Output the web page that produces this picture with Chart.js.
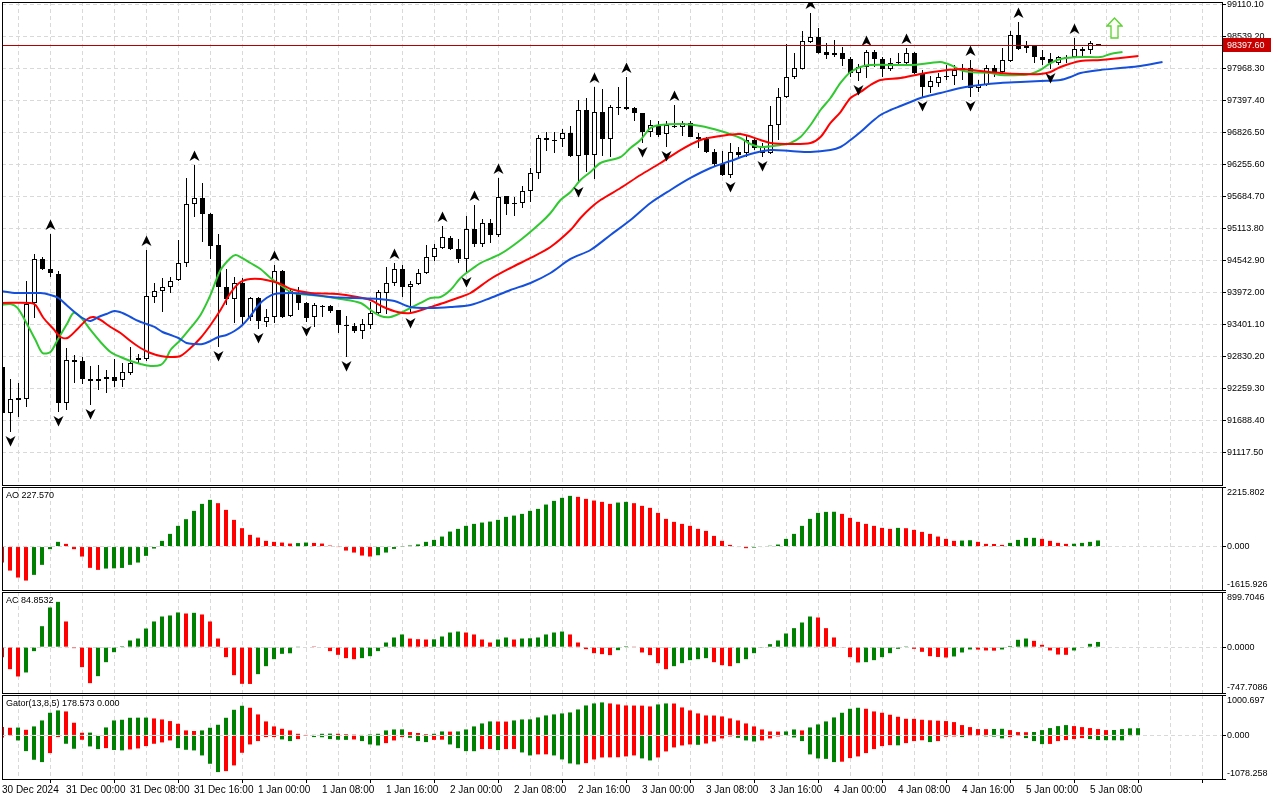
<!DOCTYPE html>
<html>
<head>
<meta charset="utf-8">
<script src="https://cdn.jsdelivr.net/npm/chart.js@4.4.1/dist/chart.umd.min.js"></script>
<style>
  html, body { margin: 0; padding: 0; background: #fff; }
  #wrap { position: relative; width: 1280px; height: 800px; overflow: hidden; }
  canvas { position: absolute; left: 0; }
</style>
</head>
<body>
<div id="wrap">
  <canvas id="main" width="1280" height="487" style="top:0px"></canvas>
  <canvas id="ao" width="1280" height="105" style="top:486px"></canvas>
  <canvas id="ac" width="1280" height="103" style="top:591px"></canvas>
  <canvas id="gator" width="1280" height="106" style="top:694px"></canvas>
</div>
<script>
// hourly candles, one per bar index
const open = [
  92652, 91831, 92063, 92081, 93794, 94579, 94400, 94311, 92010, 92777,
  92759, 92438, 92402, 92438, 92474, 92420, 92545, 92777, 92795, 93901,
  94008, 94079, 94204, 94507, 95560, 95667, 95382, 94829, 94079, 93865,
  94151, 93544, 93883, 93455, 93544, 94365, 93562, 93972, 93794, 93544,
  93740, 93740, 93669, 93401, 93384, 93294, 93401, 93615, 93972, 94151,
  94400, 94079, 94133, 94329, 94614, 94775, 94953, 94757, 94579, 95114,
  94846, 95221, 95007, 95703, 95578, 95578, 95792, 96113, 96737, 96702,
  96720, 96827, 96416, 97237, 96434, 97201, 96720, 97290, 97290, 97273,
  97183, 96844, 96969, 96809, 96934, 96934, 97005, 96755, 96720, 96488,
  96274, 96077, 96488, 96470, 96702, 96470, 96470, 96969, 97469, 97826,
  97968, 98450, 98539, 98272, 98218, 98254, 98147, 97897, 98004, 98272,
  98147, 97968, 98075, 98075, 98254, 97897, 97647, 97719, 97826, 97844,
  97951, 97986, 97629, 97683, 97986, 97915, 98111, 98575, 98343, 98379,
  98182, 98147, 98075, 98165, 98182, 98325, 98307, 98414
];
const high = [
  92688, 92438, 92367, 94186, 94668, 94614, 95025, 94365, 92991, 92866,
  92830, 92670, 92688, 92599, 92795, 92723, 93009, 92884, 94739, 94151,
  94240, 94258, 94918, 96024, 96256, 95935, 95399, 95025, 94400, 94258,
  94240, 93901, 93901, 93687, 94472, 94382, 94061, 94079, 93812, 93794,
  93758, 93758, 93669, 93562, 93437, 93508, 93812, 94026, 94436, 94507,
  94472, 94186, 94400, 94829, 94846, 95168, 94989, 94936, 95346, 95542,
  95292, 95292, 96024, 95703, 95685, 95881, 96202, 96791, 96844, 96844,
  96898, 96952, 97415, 97451, 97647, 97612, 97326, 97647, 97826, 97290,
  97183, 97058, 97041, 97041, 97326, 97041, 97041, 96827, 96755, 96541,
  96506, 96648, 96577, 96791, 96755, 96648, 97308, 97629, 98414, 98254,
  98646, 98967, 98700, 98432, 98486, 98361, 98182, 98058, 98307, 98307,
  98182, 98165, 98254, 98343, 98272, 97951, 97844, 97897, 98040, 98040,
  98058, 98129, 97772, 98040, 98040, 98343, 98646, 98807, 98468, 98397,
  98307, 98254, 98200, 98218, 98521, 98361, 98468, 98414
];
const low = [
  91796, 91492, 91760, 91938, 93526, 94382, 94258, 91849, 91885, 92367,
  92349, 91974, 92242, 92188, 92295, 92295, 92509, 92723, 92759, 93794,
  93633, 93972, 94186, 94436, 95328, 94882, 94579, 93009, 93758, 93437,
  93419, 93473, 93330, 93366, 93437, 93526, 93544, 93669, 93455, 93366,
  93544, 93615, 93259, 92830, 93259, 93152, 93330, 93598, 93598, 94097,
  93901, 93598, 94115, 94311, 94543, 94757, 94739, 94507, 94329, 94793,
  94793, 94864, 94971, 95364, 95346, 95489, 95596, 96006, 96506, 96470,
  96577, 96398, 95935, 96131, 96006, 96416, 96398, 97148, 97237, 97041,
  96648, 96755, 96755, 96577, 96916, 96773, 96755, 96559, 96470, 96220,
  96060, 96024, 96398, 96398, 96523, 96398, 96452, 96702, 97451, 97790,
  97960, 98432, 98240, 98147, 98182, 98022, 97826, 97754, 97808, 98004,
  97826, 97933, 98040, 98058, 97879, 97469, 97540, 97647, 97772, 97683,
  97772, 97469, 97558, 97665, 97826, 97897, 98093, 98307, 98254, 98075,
  98040, 97968, 98040, 98075, 98175, 98200, 98236, 98379
];
const close = [
  91831, 92081, 92099, 93776, 94579, 94400, 94329, 92010, 92777, 92741,
  92438, 92402, 92438, 92474, 92402, 92563, 92723, 92813, 93919, 94008,
  94079, 94186, 94507, 95560, 95667, 95382, 94811, 94079, 93865, 94151,
  93544, 93883, 93473, 93544, 94365, 93544, 94008, 93794, 93526, 93758,
  93722, 93651, 93401, 93384, 93294, 93419, 93615, 93990, 94151, 94400,
  94079, 94133, 94329, 94614, 94775, 94971, 94757, 94579, 95114, 94846,
  95221, 95007, 95685, 95560, 95560, 95792, 96113, 96737, 96702, 96684,
  96827, 96416, 97237, 96434, 97201, 96720, 97290, 97273, 97255, 97183,
  96844, 96969, 96791, 96969, 96952, 97005, 96755, 96720, 96488, 96274,
  96077, 96488, 96434, 96702, 96559, 96595, 96969, 97469, 97826, 97986,
  98468, 98539, 98254, 98218, 98254, 98147, 97897, 98004, 98272, 98147,
  97968, 98075, 98093, 98254, 97897, 97647, 97754, 97826, 97835, 97951,
  97986, 97629, 97683, 97986, 97915, 98129, 98575, 98325, 98379, 98182,
  98129, 98075, 98182, 98160, 98325, 98290, 98432, 98397.6
];

// alligator lines: [bar position, price]
const jawLine = [
  [-0.25, 94008], [1.75, 93972], [4.75, 93972], [6, 93937], [7, 93883], [8, 93758], [9, 93633], [10, 93526],
  [11, 93473], [12, 93544], [13, 93598], [14, 93651], [15, 93615], [16, 93544], [17, 93473], [18, 93419],
  [19, 93366], [20, 93276], [21, 93223], [22, 93169], [23, 93080], [24, 93062], [25, 93062], [26, 93116],
  [27, 93187], [28, 93223], [29, 93294], [30, 93401], [31, 93562], [32, 93758], [33, 93883], [34, 93954],
  [36, 93972], [38, 93954], [41, 93901], [44, 93883], [47, 93865], [49, 93829], [51, 93722], [53.5, 93705],
  [56, 93722], [58.5, 93758], [61, 93883], [63.5, 94026], [66, 94151], [68.5, 94329], [71, 94579], [73.5, 94739],
  [76, 95007], [78.5, 95274], [81, 95578], [83.5, 95810], [86, 96024], [88.5, 96202], [91, 96327], [93.5, 96452],
  [96, 96523], [98.5, 96506], [101, 96488], [103.5, 96523], [104.75, 96577], [106, 96702], [107.25, 96844],
  [108.5, 97005], [109.75, 97148], [111, 97237], [112.25, 97308], [113.5, 97380], [114.75, 97451], [117.25, 97540],
  [119.75, 97629], [122.25, 97683], [124.75, 97719], [127.25, 97736], [129.75, 97754], [132.25, 97772],
  [133.5, 97826], [134.75, 97897], [137.25, 97951], [139.75, 97986], [142.25, 98022], [145, 98093]
];
const teethLine = [
  [-0.25, 93794], [3.5, 93794], [4.125, 93758], [5.125, 93526], [6.375, 93330], [7.25, 93187], [8.125, 93169],
  [9.375, 93330], [10.625, 93508], [11.375, 93544], [12.25, 93491], [13.5, 93366], [14.75, 93259], [16, 93116],
  [17.25, 92991], [18.5, 92902], [19.75, 92848], [21, 92830], [22.25, 92848], [23.5, 92991], [24.75, 93169],
  [26, 93401], [27.25, 93669], [28.5, 93972], [29.75, 94168], [31, 94222], [32.25, 94222], [33.5, 94186],
  [34.75, 94133], [36, 94044], [38.5, 93972], [41.875, 93954], [44.375, 93901], [46, 93847], [47.625, 93722],
  [49.375, 93633], [51, 93615], [53.5, 93722], [55.125, 93794], [56.875, 93883], [58.5, 93972], [61, 94222],
  [63.5, 94418], [66, 94597], [68.5, 94793], [71, 95096], [72.25, 95310], [73.5, 95489], [74.75, 95631],
  [77.25, 95845], [79.75, 96077], [82.25, 96291], [84.75, 96523], [87.25, 96702], [89.75, 96773], [92.25, 96809],
  [94.75, 96702], [96, 96648], [98.5, 96630], [101, 96648], [102.25, 96755], [103.5, 97005], [104.75, 97201],
  [106, 97451], [107.25, 97558], [108.5, 97683], [109.75, 97772], [112.25, 97808], [114.75, 97879], [117.25, 97933],
  [119.75, 97968], [122.25, 97933], [124.75, 97897], [127.25, 97879], [129.75, 97879], [131, 97915], [132.25, 98004],
  [134.75, 98111], [137.25, 98129], [139.75, 98165], [142, 98200]
];
const lipsLine = [
  [-0.25, 93758], [1, 93776], [1.875, 93705], [3.125, 93401], [4.125, 93134], [5, 92902], [6, 92920], [6.875, 93134],
  [8.125, 93437], [8.875, 93615], [9.75, 93544], [11, 93312], [12.25, 93098], [13.5, 92920], [14.75, 92830],
  [16, 92759], [17.25, 92706], [18.5, 92670], [19.75, 92688], [20.375, 92777], [21, 92955], [22.25, 93134],
  [23.5, 93348], [24.75, 93580], [26, 93937], [27.25, 94382], [28.5, 94597], [29.125, 94650], [29.75, 94614],
  [31, 94507], [32.25, 94400], [33.5, 94240], [34.75, 94115], [36, 93990], [37.25, 93954], [39.75, 93919],
  [42.25, 93865], [44.75, 93794], [46, 93669], [47.25, 93562], [48.5, 93544], [49.75, 93615], [51, 93705],
  [52.25, 93794], [53.5, 93883], [54.75, 93901], [56, 94026], [57.25, 94240], [58.5, 94382], [59.75, 94507],
  [62.25, 94668], [64.75, 94918], [67.25, 95221], [68.5, 95399], [69.75, 95631], [71, 95774], [72.25, 95988],
  [73.5, 96131], [74.75, 96291], [77.25, 96398], [78.5, 96559], [79.75, 96702], [81, 96916], [82.25, 96969],
  [84.75, 96987], [87.25, 96952], [89.75, 96862], [92.25, 96737], [93.5, 96630], [94.75, 96577], [97.25, 96613],
  [98.5, 96648], [99.75, 96755], [101, 96969], [102.25, 97237], [103.5, 97451], [104.75, 97719], [106, 97915],
  [107.25, 98004], [108.5, 98040], [113.5, 98040], [116, 98075], [117.25, 98093], [118.5, 98040], [119.75, 97951],
  [121, 97915], [123.5, 97897], [124.75, 97861], [127.25, 97861], [128.5, 97879], [129.75, 97951], [131, 98075],
  [132.25, 98147], [134.75, 98182], [137.25, 98182], [138.5, 98236], [140, 98272]
];

const fractalUp = [6, 18, 24, 34, 49, 55, 59, 62, 74, 78, 84, 101, 108, 113, 121, 127, 134];
const fractalDown = [1, 7, 11, 27, 32, 38, 43, 51, 58, 72, 80, 83, 91, 95, 107, 115, 121, 131];
const signalBar = 139;
const signalPrice = 98700;

const ao = [
  -595, -893, -1153, -1265, -1053, -681, -97, 175, 100, -97,
  -372, -792, -867, -818, -810, -795, -681, -595, -346, -74,
  212, 472, 770, 1019, 1328, 1588, 1737, 1614, 1365, 993,
  684, 435, 335, 212, 175, 149, 112, 130, 150, 135,
  112, 37, -10, -149, -223, -335, -372, -323, -223, -87,
  10, 40, 80, 175, 248, 372, 558, 658, 770, 844,
  893, 930, 993, 1105, 1153, 1216, 1328, 1402, 1563, 1700,
  1812, 1886, 1849, 1774, 1712, 1663, 1588, 1637, 1663, 1614,
  1514, 1440, 1253, 1030, 919, 844, 770, 658, 583, 397,
  212, 62, -20, -60, -40, -20, 30, 75, 285, 472,
  770, 1030, 1253, 1290, 1295, 1216, 1067, 919, 844, 770,
  695, 658, 695, 683, 621, 546, 472, 372, 285, 212,
  224, 235, 175, 100, 95, 62, 137, 248, 323, 325,
  285, 212, 137, 100, 105, 137, 175, 227.57
];
const ac = [
  -163, -359, -478, -413, -65, 342, 647, 739, 419, -16,
  -326, -587, -473, -245, -82, 16, 109, 141, 304, 419,
  500, 517, 566, 549, 560, 533, 419, 141, -163, -457,
  -598, -600, -440, -310, -196, -109, -100, 5, 8, 3,
  -8, -65, -125, -179, -196, -179, -147, -65, 76, 158,
  207, 140, 130, 125, 128, 174, 239, 255, 239, 207,
  125, 76, 125, 158, 125, 141, 145, 158, 207, 239,
  255, 207, 76, -33, -98, -114, -130, -49, 16, 5,
  -87, -130, -261, -359, -310, -261, -212, -196, -179, -245,
  -294, -310, -261, -196, -98, -5, 49, 109, 223, 310,
  402, 500, 484, 310, 158, -10, -163, -250, -245, -212,
  -163, -98, -27, 3, -27, -76, -147, -160, -169, -152,
  -87, -38, -40, -54, -57, -38, 20, 120, 141, 103,
  38, -54, -120, -125, -54, -11, 54, 84.8532
];
const gatorUp = [
  206, 190, 195, 140, 223, 371, 561, 619, 594, 314,
  66, 70, 10, 198, 371, 388, 437, 440, 442, 421,
  396, 355, 289, 124, 110, 124, 190, 264, 437, 635,
  734, 685, 520, 347, 223, 165, 124, 41, 8, 16,
  41, 45, 41, 30, 20, 15, 25, 41, 124, 148,
  150, 83, 60, 30, 41, 99, 95, 99, 148, 223,
  297, 347, 345, 343, 371, 396, 398, 446, 495, 520,
  545, 569, 643, 742, 792, 817, 792, 767, 742, 740,
  738, 718, 767, 792, 790, 693, 619, 545, 495, 493,
  470, 421, 371, 297, 223, 148, 99, 95, 99, 148,
  124, 198, 272, 347, 446, 561, 660, 685, 660, 594,
  561, 512, 462, 412, 410, 388, 375, 365, 355, 330,
  256, 206, 157, 155, 160, 165, 132, 83, 80, 85,
  132, 182, 231, 256, 231, 206, 182, 157, 132, 135,
  157, 175, 178.573
];
const gatorDown = [
  -50, -10, -124, -388, -602, -660, -437, -41, -206, -330,
  -107, -272, -338, -314, -360, -370, -347, -322, -264, -206,
  -173, -124, -314, -355, -371, -495, -701, -907, -883, -742,
  -429, -223, -140, -41, -40, -99, -140, -91, -8, -41,
  -45, -91, -107, -110, -100, -140, -223, -248, -190, -124,
  -41, -58, -140, -165, -110, -105, -223, -314, -388, -390,
  -338, -335, -363, -338, -335, -421, -495, -470, -468, -495,
  -594, -693, -718, -685, -594, -545, -543, -540, -520, -495,
  -569, -619, -545, -396, -297, -248, -223, -232, -200, -150,
  -74, -25, -60, -124, -150, -124, -74, -25, -15, -50,
  -140, -470, -569, -580, -660, -650, -561, -520, -437, -338,
  -264, -240, -245, -190, -140, -120, -165, -140, -33, -25,
  -41, -15, -10, -25, -30, -74, -41, -8, -66, -140,
  -215, -210, -140, -115, -90, -66, -90, -115, -118, -120,
  -122, -16, 0
];

// axis ranges and tick labels
const priceRange = [90546.6, 99163.6];
const priceTicks = [99110.10, 98539.20, 97968.30, 97397.40, 96826.50, 96255.60, 95684.70, 95113.80,
  94542.90, 93972.00, 93401.10, 92830.20, 92259.30, 91688.40, 91117.50];
const aoTicks = [-1615.926, 0, 2215.802];
const acTicks = [-747.7086, 0, 899.7046];
const gatorTicks = [-1078.258, 0, 1000.697];
const timeLabels = ['30 Dec 2024', '31 Dec 00:00', '31 Dec 08:00', '31 Dec 16:00', '1 Jan 00:00', '1 Jan 08:00',
  '1 Jan 16:00', '2 Jan 00:00', '2 Jan 08:00', '2 Jan 16:00', '3 Jan 00:00', '3 Jan 08:00', '3 Jan 16:00',
  '4 Jan 00:00', '4 Jan 08:00', '4 Jan 16:00', '5 Jan 00:00', '5 Jan 08:00'];

const FONT = "'Liberation Sans', Arial, sans-serif";
const NARROW = "'Liberation Sans Narrow', 'Liberation Sans', Arial, sans-serif";
const GRID = '#d9d9d9';
const GREEN = '#008000', RED = '#ff0000';
const BARS_WIDE = 1220 / 8;

// green when the bar grows compared with the one before
const risingColors = vals => vals.map((v, i) => (i > 0 && v > vals[i - 1]) ? GREEN : RED);
const fallingColors = vals => vals.map((v, i) => (i > 0 && v < vals[i - 1]) ? GREEN : RED);

function fractalGlyph(up) {
  const c = document.createElement('canvas');
  c.width = 13; c.height = 30;
  const g = c.getContext('2d');
  g.translate(6.5, up ? 6 : 24);
  if (!up) g.scale(1, -1);
  g.beginPath();
  g.moveTo(0, -5.5); g.lineTo(5, 5); g.lineTo(0, 2); g.lineTo(-5, 5);
  g.closePath();
  g.fillStyle = '#000';
  g.fill();
  return c;
}

function signalArrow() {
  const c = document.createElement('canvas');
  c.width = 17; c.height = 22;
  const g = c.getContext('2d');
  g.beginPath();
  g.moveTo(8.5, 1); g.lineTo(16, 9); g.lineTo(12, 9); g.lineTo(12, 21);
  g.lineTo(5, 21); g.lineTo(5, 9); g.lineTo(1, 9);
  g.closePath();
  g.fillStyle = '#fbfff5'; g.fill();
  g.strokeStyle = '#5fd134'; g.lineWidth = 1.3; g.stroke();
  return c;
}

const panelPlugin = {
  id: 'panel',
  afterDraw(chart, args, o) {
    const ctx = chart.ctx, a = chart.chartArea, ys = chart.scales.y;
    ctx.save();
    if (o.lastPrice !== undefined) {
      const py = Math.round(ys.getPixelForValue(o.lastPrice)) + 0.5;
      ctx.strokeStyle = '#b40000'; ctx.lineWidth = 1;
      ctx.beginPath(); ctx.moveTo(a.left, py); ctx.lineTo(a.right, py); ctx.stroke();
    }
    ctx.strokeStyle = '#000'; ctx.lineWidth = 1;
    ctx.strokeRect(a.left + 0.5, a.top + 0.5, a.right - a.left, a.bottom - a.top);

    ctx.font = '9px ' + FONT;
    ctx.fillStyle = '#000';
    ctx.textAlign = 'left';
    o.ticks.forEach(v => {
      let y = ys.getPixelForValue(v), base = 'middle';
      if (o.edges && v === ys.max) { base = 'top'; y += 1; }
      else if (o.edges && v === ys.min) { base = 'bottom'; y -= 1; }
      ctx.textBaseline = base;
      ctx.fillText(v.toFixed(o.digits), a.right + 5, y);
    });
    if (o.lastPrice !== undefined) {
      const py = Math.round(ys.getPixelForValue(o.lastPrice));
      ctx.fillStyle = '#c80000';
      ctx.fillRect(a.right + 1, py - 7, 48, 14);
      ctx.fillStyle = '#fff';
      ctx.textBaseline = 'middle';
      ctx.fillText(o.lastPrice.toFixed(2), a.right + 5, py + 0.5);
    }
    if (o.title) {
      ctx.fillStyle = '#000';
      ctx.textBaseline = 'middle';
      ctx.fillText(o.title, a.left + 4, a.top + 9);
    }
    ctx.restore();
  }
};

function xScale(min, withLabels) {
  return {
    type: 'linear', min: min, max: min + BARS_WIDE, offset: false,
    afterBuildTicks: s => {
      const t = [];
      for (let v = 0; v <= 152; v += 4) t.push({ value: v });
      s.ticks = t;
    },
    afterFit: s => { s.height = withLabels ? 21 : 0; },
    grid: {
      color: GRID, lineWidth: 1, drawTicks: withLabels, tickLength: 4, tickBorderDash: [],
      tickColor: c => (c.tick && c.tick.value % 8 === 0) ? '#000' : 'rgba(0,0,0,0)'
    },
    border: { display: false, dash: [4, 3] },
    ticks: {
      display: withLabels, autoSkip: false, maxRotation: 0, minRotation: 0, align: 'start',
      padding: 1, color: '#000', font: { family: NARROW, size: 10 },
      callback: v => (v % 8 === 0 && timeLabels[v / 8]) ? timeLabels[v / 8] : ''
    }
  };
}

function yScale(ticks) {
  return {
    type: 'linear', position: 'right', min: ticks[0], max: ticks[ticks.length - 1],
    afterBuildTicks: s => { s.ticks = ticks.map(v => ({ value: v })); },
    afterFit: s => { s.width = 58; },
    grid: { color: GRID, lineWidth: 1, drawTicks: true, tickLength: 4, tickColor: '#000', tickBorderDash: [] },
    border: { display: false, dash: [4, 3] },
    ticks: { display: false }
  };
}

function options(pad, xmin, withLabels, y, panel) {
  return {
    responsive: false, animation: false, devicePixelRatio: 1, events: [],
    layout: { padding: pad, autoPadding: false },
    plugins: { legend: { display: false }, tooltip: { enabled: false }, panel: panel },
    scales: { x: xScale(xmin, withLabels), y: y }
  };
}

const idx = open.map((_, i) => i);
const last = close.length - 1;

// main price window
const mainY = yScale(priceTicks);
mainY.min = priceRange[0];
mainY.max = priceRange[1];
new Chart(document.getElementById('main'), {
  type: 'bar',
  data: {
    datasets: [
      {
        data: idx.map(i => ({ x: i, y: [low[i], high[i]] })),
        backgroundColor: '#000', barThickness: 1, grouped: false, inflateAmount: 0, order: 5
      },
      {
        data: idx.map(i => ({ x: i, y: [open[i], close[i]] })),
        backgroundColor: idx.map(i => close[i] >= open[i] ? '#fff' : '#000'),
        borderColor: '#000', borderWidth: 1, borderSkipped: false, barThickness: 5,
        minBarLength: 1, grouped: false, inflateAmount: 0, order: 4
      },
      {
        type: 'line', data: jawLine.map(p => ({ x: p[0], y: p[1] })),
        borderColor: '#1450dc', borderWidth: 2, pointRadius: 0, tension: 0.3, order: 3
      },
      {
        type: 'line', data: teethLine.map(p => ({ x: p[0], y: p[1] })),
        borderColor: '#ff0000', borderWidth: 2, pointRadius: 0, tension: 0.3, order: 3
      },
      {
        type: 'line', data: lipsLine.map(p => ({ x: p[0], y: p[1] })),
        borderColor: '#32c832', borderWidth: 2, pointRadius: 0, tension: 0.3, order: 3
      },
      {
        type: 'line', showLine: false, data: fractalUp.map(i => ({ x: i, y: high[i] })),
        pointStyle: fractalGlyph(true), pointRadius: 3, order: 1
      },
      {
        type: 'line', showLine: false, data: fractalDown.map(i => ({ x: i, y: low[i] })),
        pointStyle: fractalGlyph(false), pointRadius: 3, order: 1
      },
      {
        type: 'line', showLine: false, data: [{ x: signalBar, y: signalPrice }],
        pointStyle: signalArrow(), pointRadius: 3, order: 1
      }
    ]
  },
  options: options({ left: 2, top: 2, right: 0, bottom: 2 }, -0.0625, false, mainY,
    { ticks: priceTicks, digits: 2, edges: false, lastPrice: close[last] }),
  plugins: [panelPlugin]
});

function histogram(id, pad, withLabels, ticks, digits, title, series) {
  new Chart(document.getElementById(id), {
    type: 'bar',
    data: {
      datasets: series.map(s => ({
        data: s.values.map((v, i) => ({ x: i, y: v })),
        backgroundColor: s.colors, barThickness: 4, grouped: false, inflateAmount: 0, borderWidth: 0
      }))
    },
    options: options(pad, 0, withLabels, yScale(ticks), { ticks: ticks, digits: digits, edges: true, title: title }),
    plugins: [panelPlugin]
  });
}

histogram('ao', { left: 2, top: 1, right: 0, bottom: 1 }, false, aoTicks, 3,
  'AO ' + ao[ao.length - 1].toFixed(3),
  [{ values: ao, colors: risingColors(ao) }]);

histogram('ac', { left: 2, top: 1, right: 0, bottom: 1 }, false, acTicks, 4,
  'AC ' + ac[ac.length - 1].toFixed(4),
  [{ values: ac, colors: risingColors(ac) }]);

histogram('gator', { left: 2, top: 1, right: 0, bottom: 0 }, true, gatorTicks, 3,
  'Gator(13,8,5) ' + gatorUp[gatorUp.length - 1].toFixed(3) + ' ' + Math.abs(gatorDown[gatorDown.length - 1]).toFixed(3),
  [{ values: gatorUp, colors: risingColors(gatorUp) }, { values: gatorDown, colors: fallingColors(gatorDown) }]);
</script>
</body>
</html>
